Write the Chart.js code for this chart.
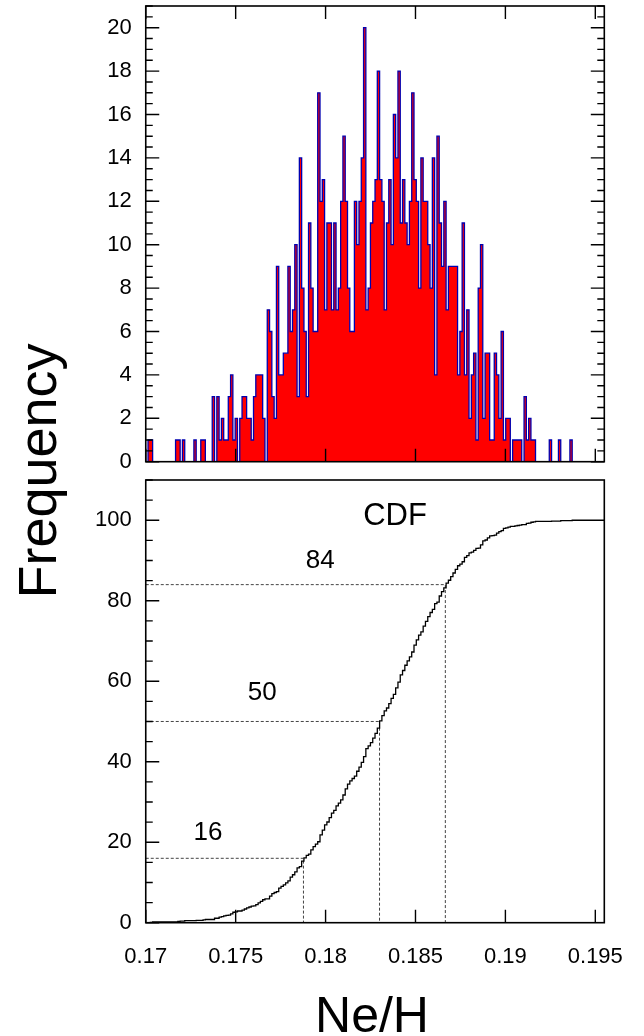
<!DOCTYPE html>
<html>
<head>
<meta charset="utf-8">
<title>Ne/H histogram and CDF</title>
<script src="https://cdn.jsdelivr.net/npm/chart.js@4.4.1/dist/chart.umd.min.js"></script>
<style>
  html, body { margin: 0; padding: 0; background: #fff; }
  body { width: 644px; height: 1036px; position: relative; overflow: hidden; }
  canvas { position: absolute; left: 0; top: 0; }
</style>
</head>
<body>
<canvas id="hist" width="644" height="1036"></canvas>
<canvas id="cdf" width="644" height="1036"></canvas>
<script>
// histogram: 200 bins over the x range, counts
const binStart = 0.17;
const binWidth = 0.0001275;
const counts = [
  0, 1, 1, 0, 0, 0, 0, 0, 0, 0,
  0, 0, 0, 1, 1, 0, 1, 0, 0, 0,
  0, 1, 0, 0, 1, 1, 0, 0, 0, 3,
  0, 3, 1, 2, 1, 1, 3, 4, 1, 2,
  0, 2, 3, 3, 2, 2, 1, 3, 4, 4,
  4, 2, 0, 7, 6, 3, 2, 9, 4, 4,
  5, 5, 9, 6, 7, 10, 3, 14, 8, 6,
  3, 11, 8, 6, 6, 17, 12, 13, 7, 11,
  11, 7, 11, 7, 8, 12, 15, 12, 8, 6,
  6, 12, 10, 12, 14, 20, 7, 8, 11, 12,
  13, 18, 13, 12, 7, 11, 13, 10, 16, 14,
  18, 11, 13, 11, 10, 12, 17, 13, 12, 8,
  14, 12, 12, 10, 8, 14, 4, 15, 11, 9,
  12, 7, 9, 9, 9, 9, 4, 6, 11, 4,
  7, 2, 4, 5, 1, 8, 10, 2, 5, 5,
  1, 1, 5, 4, 2, 6, 1, 2, 2, 0,
  1, 1, 1, 1, 0, 3, 1, 2, 1, 1,
  0, 0, 0, 0, 0, 0, 1, 0, 0, 0,
  1, 0, 0, 0, 0, 1, 0, 0, 0, 0,
  0, 0, 0, 0, 0, 0, 0, 0, 0, 0
];

const xMin = 0.17;
const xMax = 0.1955;
const xTickValues = [0.17, 0.175, 0.18, 0.185, 0.19, 0.195];
const xTickLabels = ['0.17', '0.175', '0.18', '0.185', '0.19', '0.195'];
const histTicks = [0, 2, 4, 6, 8, 10, 12, 14, 16, 18, 20];
const cdfTicks = [0, 20, 40, 60, 80, 100];

// percentile markers on the CDF
const percentiles = [16, 50, 84];
const percentileValues = [0.17877, 0.1830, 0.18666];

const FONT = '"Liberation Sans", Arial, Helvetica, sans-serif';

// points for the step outline of the histogram
const histPoints = counts.map((c, i) => ({ x: binStart + i * binWidth, y: c }));
histPoints.push({ x: binStart + counts.length * binWidth, y: 0 });

// cumulative distribution in percent
const total = counts.reduce((s, c) => s + c, 0);
const cdfPoints = [{ x: xMin, y: 0 }];
let run = 0;
counts.forEach((c, i) => {
  run += c;
  cdfPoints.push({ x: binStart + (i + 1) * binWidth, y: 100 * run / total });
});
cdfPoints.push({ x: xMax, y: 100 });

const guideSets = percentiles.map((p, i) => ({
  data: [{ x: xMin, y: p }, { x: percentileValues[i], y: p }, { x: percentileValues[i], y: 0 }],
  borderColor: '#444',
  borderWidth: 1,
  borderDash: [3, 2],
  pointRadius: 0,
  fill: false
}));

// frame with inward ticks, like the original plotting package
const framePlugin = {
  id: 'frame',
  afterDatasetsDraw(chart, args, o) {
    const { ctx, chartArea: a } = chart;
    const xs = chart.scales.x, ys = chart.scales.y;
    ctx.save();
    ctx.strokeStyle = '#000';
    ctx.lineWidth = 1.4;
    ctx.beginPath();
    const yTick = (v, len) => {
      const p = ys.getPixelForValue(v);
      ctx.moveTo(a.left, p); ctx.lineTo(a.left + len, p);
      if (o.mirrorY) { ctx.moveTo(a.right, p); ctx.lineTo(a.right - len, p); }
    };
    const xTick = (v, len) => {
      const p = xs.getPixelForValue(v);
      ctx.moveTo(p, a.bottom); ctx.lineTo(p, a.bottom - len);
      if (o.mirrorX) { ctx.moveTo(p, a.top); ctx.lineTo(p, a.top + len); }
    };
    for (let v = ys.min; v <= ys.max + 1e-9; v += o.yMinor) yTick(v, 7);
    o.yMajor.forEach(v => yTick(v, 13.5));
    xTickValues.forEach(v => xTick(v, 13));
    ctx.stroke();
    ctx.lineWidth = 1.6;
    ctx.strokeRect(a.left, a.top, a.right - a.left, a.bottom - a.top);
    ctx.restore();
  }
};

const notesPlugin = {
  id: 'notes',
  afterDatasetsDraw(chart, args, o) {
    const { ctx } = chart;
    const xs = chart.scales.x, ys = chart.scales.y;
    ctx.save();
    ctx.fillStyle = '#000';
    ctx.textAlign = 'center';
    ctx.textBaseline = 'middle';
    (o.items || []).forEach(t => {
      ctx.font = t.size + 'px ' + FONT;
      ctx.fillText(t.text, xs.getPixelForValue(t.x), ys.getPixelForValue(t.y));
    });
    ctx.restore();
  }
};

const titlePlugin = {
  id: 'titles',
  afterDraw(chart) {
    const { ctx } = chart;
    ctx.save();
    ctx.fillStyle = '#000';
    ctx.textAlign = 'center';
    ctx.textBaseline = 'alphabetic';
    ctx.font = '54px ' + FONT;
    ctx.translate(56, 471);
    ctx.rotate(-Math.PI / 2);
    ctx.fillText('Frequency', 0, 0);
    ctx.restore();
    ctx.save();
    ctx.fillStyle = '#000';
    ctx.textAlign = 'center';
    ctx.textBaseline = 'alphabetic';
    ctx.font = '50px ' + FONT;
    ctx.fillText('Ne/H', 372, 1032);
    ctx.restore();
  }
};

const setTicks = vals => scale => { scale.ticks = vals.map(v => ({ value: v })); };
const fixY = w => s => { s.width = w; s.paddingTop = 0; s.paddingBottom = 0; };
const fixX = h => s => { s.height = h; s.paddingLeft = 0; s.paddingRight = 0; };

const tickFont = { family: FONT, size: 22 };

new Chart(document.getElementById('hist'), {
  type: 'line',
  data: {
    datasets: [{
      data: histPoints,
      stepped: 'before',
      borderColor: '#0000b0',
      borderWidth: 1.3,
      backgroundColor: '#ff0000',
      fill: 'origin',
      pointRadius: 0
    }]
  },
  options: {
    responsive: false,
    animation: false,
    devicePixelRatio: 1,
    layout: { padding: { top: 6, right: 39.7, bottom: 574.3, left: 0 } },
    plugins: {
      legend: { display: false },
      tooltip: { enabled: false },
      frame: { yMinor: 0.5, yMajor: histTicks, mirrorX: true, mirrorY: true }
    },
    scales: {
      x: {
        type: 'linear', min: xMin, max: xMax,
        afterBuildTicks: setTicks(xTickValues),
        afterFit: fixX(0),
        ticks: { display: false },
        grid: { display: false, drawTicks: false },
        border: { display: false }
      },
      y: {
        min: 0, max: 21,
        afterBuildTicks: setTicks(histTicks),
        afterFit: fixY(145.75),
        ticks: { font: tickFont, color: '#000', padding: 14 },
        grid: { display: false, drawTicks: false },
        border: { display: false }
      }
    }
  },
  plugins: [framePlugin, titlePlugin]
});

new Chart(document.getElementById('cdf'), {
  type: 'line',
  data: {
    datasets: [{
      data: cdfPoints,
      stepped: 'before',
      borderColor: '#000',
      borderWidth: 1.3,
      pointRadius: 0,
      fill: false
    }].concat(guideSets)
  },
  options: {
    responsive: false,
    animation: false,
    devicePixelRatio: 1,
    layout: { padding: { top: 480, right: 39.7, bottom: 63.3, left: 0 } },
    plugins: {
      legend: { display: false },
      tooltip: { enabled: false },
      frame: { yMinor: 5, yMajor: cdfTicks, mirrorX: false, mirrorY: false },
      notes: {
        items: [
          { text: 'CDF', x: 0.18386, y: 100.9, size: 31 },
          { text: '84', x: 0.1797, y: 90, size: 26 },
          { text: '50', x: 0.17648, y: 57, size: 26 },
          { text: '16', x: 0.17346, y: 22.3, size: 26 }
        ]
      }
    },
    scales: {
      x: {
        type: 'linear', min: xMin, max: xMax,
        afterBuildTicks: setTicks(xTickValues),
        afterFit: fixX(50),
        ticks: {
          font: tickFont, color: '#000', padding: 21, maxRotation: 0,
          callback: v => xTickLabels[xTickValues.indexOf(v)]
        },
        grid: { display: false, drawTicks: false },
        border: { display: false }
      },
      y: {
        min: 0, max: 110,
        afterBuildTicks: setTicks(cdfTicks),
        afterFit: fixY(145.75),
        ticks: { font: tickFont, color: '#000', padding: 14 },
        grid: { display: false, drawTicks: false },
        border: { display: false }
      }
    }
  },
  plugins: [framePlugin, notesPlugin]
});
</script>
</body>
</html>
